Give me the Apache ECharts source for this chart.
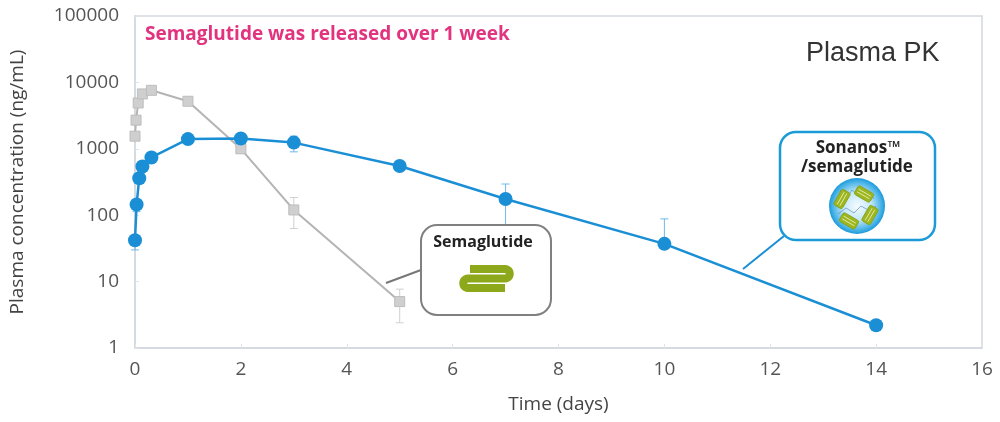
<!DOCTYPE html>
<html>
<head>
<meta charset="utf-8">
<script src="https://cdn.jsdelivr.net/npm/echarts@6/dist/echarts.min.js"></script>
<style>
  html, body { margin: 0; padding: 0; background: #fff; }
  #main { width: 1000px; height: 422px; }
</style>
</head>
<body>
<div id="main"></div>
<script>
// x ticks and y ticks
var xTicks = [0, 2, 4, 6, 8, 10, 12, 14, 16];
var yTicks = [1, 10, 100, 1000, 10000, 100000];

// Sonanos/semaglutide (blue)
var sonaDays = [0, 0.03, 0.08, 0.14, 0.31, 1, 2, 3, 5, 7, 10, 14];
var sonaConc = [42, 145, 360, 540, 740, 1400, 1430, 1240, 550, 175, 37, 2.2];
var sonaLow  = [30, 113, null, null, null, null, null, 900, null, 55, null, 2.0];
var sonaHigh = [null, null, null, null, null, null, null, 1550, null, 295, 88, null];

// Semaglutide (gray)
var semaDays = [0, 0.02, 0.06, 0.14, 0.31, 1, 2, 3, 5];
var semaConc = [1550, 2700, 4900, 6700, 7600, 5200, 1000, 120, 5];
var semaLow  = [null, null, null, null, null, null, 880, 63, 2.4];
var semaHigh = [null, null, null, null, null, null, null, 185, 7.7];

var BLUE = '#1b8fd6';
var GRAY = '#b4b4b4';
var font = '"Open Sans", "DejaVu Sans", sans-serif';

function pairs(xs, ys) {
    return xs.map(function (x, i) { return [x, ys[i]]; });
}
function errRows(xs, ys, lo, hi) {
    return xs.map(function (x, i) {
        return [x, lo[i] == null ? ys[i] : lo[i], hi[i] == null ? ys[i] : hi[i]];
    });
}

//误差线
function errorBar(color) {
    return function (params, api) {
        var x = api.value(0), lo = api.value(1), hi = api.value(2);
        var pLo = api.coord([x, lo]), pHi = api.coord([x, hi]);
        var cap = 4, kids = [];
        if (lo === hi) return null;
        kids.push({ type: 'line', shape: { x1: pLo[0], y1: pLo[1], x2: pHi[0], y2: pHi[1] },
            style: { stroke: color, lineWidth: 1 } });
        kids.push({ type: 'line', shape: { x1: pLo[0] - cap, y1: pLo[1], x2: pLo[0] + cap, y2: pLo[1] },
            style: { stroke: color, lineWidth: 1 } });
        kids.push({ type: 'line', shape: { x1: pHi[0] - cap, y1: pHi[1], x2: pHi[0] + cap, y2: pHi[1] },
            style: { stroke: color, lineWidth: 1 } });
        return { type: 'group', children: kids };
    };
}

// S-shaped folded band for the semaglutide icon
function ribbonPoints() {
    var pts = [[470, 269], [505, 269]], a, i, r = 4.75;
    for (i = 1; i < 12; i++) {            // right bend
        a = -Math.PI / 2 + Math.PI * i / 12;
        pts.push([505 + r * Math.cos(a), 273.75 + r * Math.sin(a)]);
    }
    pts.push([505, 278.5], [468, 278.5]);
    for (i = 1; i < 12; i++) {            // left bend
        a = -Math.PI / 2 - Math.PI * i / 12;
        pts.push([468 + r * Math.cos(a), 283.25 + r * Math.sin(a)]);
    }
    pts.push([468, 288], [505, 288]);
    return pts;
}

function greenChip(x, y, rot) {
    return { type: 'group', x: x, y: y, rotation: rot, z: 12, children: [
        { type: 'rect', z: 12, shape: { x: -9, y: -5, width: 18, height: 10, r: 2 },
          style: { fill: '#9db61e', stroke: '#86a015', lineWidth: 0.8 } },
        { type: 'line', z: 13, shape: { x1: -7, y1: -1.5, x2: 7, y2: -1.5 },
          style: { stroke: '#e8f0c0', lineWidth: 0.8 } },
        { type: 'line', z: 13, shape: { x1: -7, y1: 1.5, x2: 7, y2: 1.5 },
          style: { stroke: '#e8f0c0', lineWidth: 0.8 } }
    ] };
}

var chart = echarts.init(document.getElementById('main'));

var option = {
    animation: false,
    backgroundColor: '#fff',
    grid: { left: 135, right: 18, top: 16, bottom: 74, show: true, borderColor: '#d3d8de', borderWidth: 1.5 },
    xAxis: {
        type: 'value', min: 0, max: 16, interval: 2,
        name: 'Time (days)', nameLocation: 'middle', nameGap: 47,
        nameTextStyle: { fontFamily: font, fontSize: 19, color: '#444' },
        axisLine: { lineStyle: { color: '#d3d8de', width: 1.5 } },
        axisTick: { inside: true, length: 4, lineStyle: { color: '#e0e4e8' } },
        axisLabel: { fontFamily: font, fontSize: 19, color: '#555', margin: 12,
            formatter: function (v) { return xTicks.indexOf(v) >= 0 ? String(v) : ''; } },
        splitLine: { show: false }
    },
    yAxis: {
        type: 'log', logBase: 10, min: 1, max: 100000,
        name: 'Plasma concentration (ng/mL)', nameLocation: 'middle', nameGap: 108,
        nameTextStyle: { fontFamily: font, fontSize: 19, color: '#444' },
        axisLine: { show: true, lineStyle: { color: '#d3d8de', width: 1.5 } },
        axisTick: { show: true, inside: true, length: 4, lineStyle: { color: '#e0e4e8' } },
        axisLabel: { fontFamily: font, fontSize: 19, color: '#555', margin: 16,
            formatter: function (v) { return yTicks.indexOf(Math.round(v)) >= 0 ? String(Math.round(v)) : ''; } },
        splitLine: { show: false },
        minorTick: { show: false }
    },
    series: [
        {
            type: 'custom', renderItem: errorBar('#d0d0d0'), z: 1,
            data: errRows(semaDays, semaConc, semaLow, semaHigh)
        },
        {
            type: 'custom', renderItem: errorBar('#6fb8e6'), z: 1,
            data: errRows(sonaDays, sonaConc, sonaLow, sonaHigh)
        },
        {
            name: 'Semaglutide', type: 'line', z: 2,
            data: pairs(semaDays, semaConc),
            symbol: 'rect', symbolSize: 10,
            lineStyle: { color: GRAY, width: 2 },
            itemStyle: { color: '#cfcfcf', borderColor: '#bdbdbd', borderWidth: 1 }
        },
        {
            name: 'Sonanos', type: 'line', z: 3,
            data: pairs(sonaDays, sonaConc),
            symbol: 'circle', symbolSize: 14,
            lineStyle: { color: BLUE, width: 2.5 },
            itemStyle: { color: BLUE }
        }
    ],
    graphic: [
        { type: 'text', left: 145, top: 25, z: 10,
          style: { text: 'Semaglutide was released over 1 week', fill: '#e2337f',
                   font: 'bold 19px ' + font } },
        { type: 'text', left: 806, top: 40, z: 10,
          style: { text: 'Plasma PK', fill: '#333', font: '27px "Liberation Sans", Arial, sans-serif' } },

        // Semaglutide callout
        { type: 'line', z: 10, shape: { x1: 421, y1: 270, x2: 386, y2: 283 },
          style: { stroke: '#777', lineWidth: 2 } },
        { type: 'rect', z: 10, shape: { x: 421, y: 225, width: 130, height: 90, r: 16 },
          style: { fill: '#fff', stroke: '#808080', lineWidth: 2 } },
        { type: 'text', z: 11, x: 483, y: 242,
          style: { text: 'Semaglutide', fill: '#222', font: 'bold 16px ' + font, align: 'center', verticalAlign: 'middle' } },
        { type: 'polyline', z: 11, shape: { points: ribbonPoints() },
          style: { fill: null, stroke: '#8ea81b', lineWidth: 8 } },

        // Sonanos callout
        { type: 'line', z: 10, shape: { x1: 784, y1: 236, x2: 743, y2: 269 },
          style: { stroke: BLUE, lineWidth: 2 } },
        { type: 'rect', z: 10, shape: { x: 780, y: 132, width: 155, height: 108, r: 16 },
          style: { fill: '#fff', stroke: '#1b9ad8', lineWidth: 2.5 } },
        { type: 'text', z: 11, x: 858, y: 148,
          style: { text: 'Sonanos™', fill: '#222', font: 'bold 17px ' + font, align: 'center', verticalAlign: 'middle' } },
        { type: 'text', z: 11, x: 857, y: 167,
          style: { text: '/semaglutide', fill: '#222', font: 'bold 17px ' + font, align: 'center', verticalAlign: 'middle' } },
        { type: 'circle', z: 11, shape: { cx: 857, cy: 206, r: 28 },
          style: { fill: new echarts.graphic.RadialGradient(0.5, 0.5, 0.5, [
              { offset: 0, color: '#f4fbff' }, { offset: 0.5, color: '#c4e8f9' },
              { offset: 0.85, color: '#4db5e8' }, { offset: 1, color: '#1c9ad9' }]) } },
        { type: 'polyline', z: 11, shape: { points: [[840, 190], [848, 196], [852, 190], [860, 197], [868, 192], [874, 199]] },
          style: { fill: null, stroke: '#4f7fa8', lineWidth: 0.6 } },
        { type: 'polyline', z: 11, shape: { points: [[838, 214], [846, 208], [854, 213], [861, 206], [870, 211], [876, 206]] },
          style: { fill: null, stroke: '#4f7fa8', lineWidth: 0.6 } },
        greenChip(842, 199, Math.PI / 3),
        greenChip(864, 194, -Math.PI / 6),
        greenChip(870, 215, Math.PI / 3),
        greenChip(849, 221, -Math.PI / 6)
    ]
};

chart.setOption(option);
</script>
</body>
</html>
